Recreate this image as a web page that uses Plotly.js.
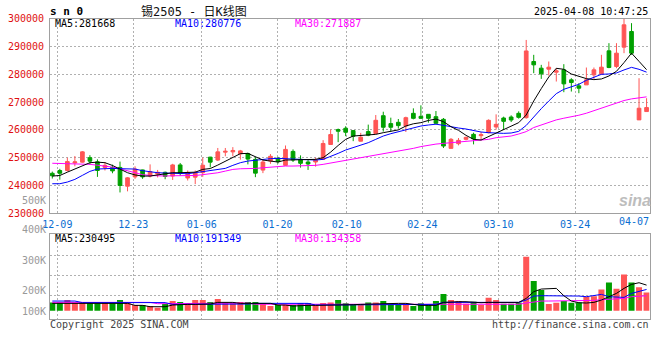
<!DOCTYPE html>
<html><head><meta charset="utf-8">
<script src="https://cdn.plot.ly/plotly-3.0.1.min.js"></script>
<style>html,body{margin:0;padding:0;background:#fff;}#chart{width:660px;height:360px;}</style>
</head><body><div id="chart"></div>
<script>
// ---- data ----
const dates = ['12-06','12-09','12-10','12-11','12-12','12-13','12-16','12-17','12-18','12-19','12-20','12-23','12-24','12-25','12-26','12-27','12-30','12-31','01-02','01-03','01-06','01-07','01-08','01-09','01-10','01-13','01-14','01-15','01-16','01-17','01-20','01-21','01-22','01-23','01-24','01-27','02-05','02-06','02-07','02-10','02-11','02-12','02-13','02-14','02-17','02-18','02-19','02-20','02-21','02-24','02-25','02-26','02-27','02-28','03-03','03-04','03-05','03-06','03-07','03-10','03-11','03-12','03-13','03-14','03-17','03-18','03-19','03-20','03-21','03-24','03-25','03-26','03-27','03-28','03-31','04-01','04-02','04-03','04-07','04-08'];
const open = [244400,245400,245400,248100,248400,250000,248500,246500,246500,246500,
 239750,243100,245600,243400,244100,244750,243400,247400,242700,243000,
 244600,250200,249150,252000,252100,251400,251500,249400,245550,248800,
 249800,247260,252260,249400,248450,248450,249400,254760,260120,260590,
 259760,255950,259400,258690,265110,262260,262730,261400,265960,264880,
 265600,264760,263800,253360,255040,256600,258400,257920,259000,261040,
 264280,264640,265960,264400,284600,282200,281840,280760,281600,278000,
 275840,276200,279800,280160,288440,282800,289760,295400,263600,266600];
const close = [243500,244400,248600,248500,252100,248750,245400,247250,245250,240000,
 242750,245900,243100,245000,244750,243250,247400,244400,244700,244500,
 247300,248400,252100,252300,252600,252450,249500,244450,248440,250500,
 248600,252980,249170,247980,247740,249170,255120,258330,259520,259160,
 257740,257380,258090,263450,260950,260950,261540,264400,264160,264160,
 264160,262360,254200,256600,256240,257320,256840,258280,263440,262000,
 263080,263560,264520,288400,283400,280160,282560,281240,276560,277040,
 275000,278000,281600,282560,282440,287600,297800,287600,267800,268040];
const high = [245000,246000,250000,250600,252400,250900,249400,248400,247500,248600,
 243000,246900,245700,247600,245600,245000,247800,248100,245400,245400,
 250000,250300,253500,253500,253800,252800,251800,250200,249300,251300,
 250300,254400,252980,250830,249170,250000,256310,260120,260470,261310,
 259880,258930,261900,265350,266540,264400,263920,264760,267760,268840,
 265600,266800,264280,257080,257080,257560,259000,259240,263800,265600,
 264760,265240,266680,292360,287000,283400,284600,282200,283640,278600,
 276800,282440,282440,287000,291200,291200,299900,298400,278600,271400];
const low = [242500,242100,245000,246900,248200,247500,243100,245400,244400,237500,
 237900,242400,242400,242900,242900,242250,242000,243500,241800,240500,
 243100,246500,248800,250500,250500,249300,247600,243000,244450,247800,
 247900,247030,248450,246430,245600,246790,249170,254640,255590,257740,
 255950,255830,257740,258570,259400,259400,260470,259240,263800,264040,
 262600,262000,253480,253360,254440,256240,254800,256240,258760,260080,
 260080,262840,264040,264040,280400,278360,279560,277400,273560,273800,
 273200,276200,278240,279800,282200,282200,287600,287000,263600,266600];
const ma5 = [243400,243600,244800,246000,247000,248200,248400,248200,247200,246000,
 244600,243800,243400,243400,243800,244300,244600,244600,244600,244800,
 245800,246100,247350,248800,250000,251450,251550,250350,249150,248800,
 248430,249160,249160,249400,249400,249400,250000,252000,254400,256600,
 257800,258000,258000,258400,259000,259500,260000,261400,262200,262600,
 263400,263900,262960,261160,259840,258040,256600,256360,257560,258760,
 260200,261160,262600,265360,270400,274840,279040,282160,281800,280120,
 279160,278440,278080,278320,279400,281080,284200,287600,284650,281668];
const ma10 = [240640,240640,241240,242200,243640,245080,245920,246160,246160,246040,
 246040,245920,245320,244840,244600,244480,244360,244240,244240,244600,
 244960,245320,245750,246160,247240,248200,248800,249160,249280,249640,
 249760,249640,249520,249400,249280,249160,249400,250360,251560,252760,
 253600,254560,255400,256600,257800,258640,259360,260080,260800,261400,
 261760,262050,261640,261040,260680,260320,259720,259240,259000,258760,
 258760,258880,259480,261600,264760,267640,270400,273040,274600,275560,
 276400,277840,279040,280000,280120,280480,281560,282500,281800,280776];
const ma30 = [248000,247900,247800,247800,247800,247600,247300,247000,246600,246000,
 245300,244500,243900,243600,243400,243400,243500,243500,243600,243600,
 243900,244200,244580,245180,245780,246020,246020,246140,246380,246620,
 246900,247000,247000,247000,247000,247240,247600,248080,248560,249040,
 249520,250000,250500,250900,251400,251800,252200,252800,253360,254000,
 254560,254900,255160,255400,255640,255760,256000,256240,256600,257200,
 257560,257800,258520,259380,260840,261800,262760,263600,264200,264680,
 265280,266000,266960,267800,268640,269600,270560,271160,271400,271887];
const volume = [75000,75000,96000,75000,75000,66000,66000,72000,66000,96000,
 75000,51000,51000,42000,27000,60000,87000,78000,63000,96000,
 96000,78000,105000,75000,75000,78000,78000,78000,63000,42000,
 51000,51000,51000,69000,69000,51000,69000,75000,96000,66000,
 57000,51000,75000,75000,87000,57000,57000,63000,42000,66000,
 51000,87000,150000,96000,87000,63000,81000,51000,117000,96000,
 63000,63000,75000,486000,267000,186000,60000,72000,87000,72000,
 75000,125000,130000,190000,255000,197000,325000,254000,211000,165000];
const vma5 = [66000,66000,66000,66000,66000,66000,66000,66000,66000,66000,
 66000,48000,48000,36000,36000,36000,51000,57000,57000,57000,
 57000,60000,75000,75000,75000,66000,66000,66000,66000,66000,
 51000,51000,42000,48000,48000,48000,48000,51000,51000,51000,
 54000,57000,60000,63000,66000,66000,66000,66000,57000,48000,
 48000,48000,75000,81000,81000,81000,75000,72000,75000,75000,
 75000,75000,75000,111000,171000,195000,201000,201000,135000,87000,
 72000,69000,75000,96000,126000,156000,201000,237000,252000,230495];
const vma10 = [87000,87000,87000,87000,73000,73000,73000,73000,73000,73000,
 73000,73000,73000,73000,73000,73000,57000,57000,57000,57000,
 57000,57000,60000,60000,60000,60000,60000,66000,66000,66000,
 66000,66000,66000,66000,66000,51000,51000,51000,51000,51000,
 51000,57000,57000,57000,57000,57000,57000,57000,57000,57000,
 57000,57000,75000,75000,75000,75000,75000,75000,75000,75000,
 75000,75000,75000,96000,132000,135000,135000,135000,135000,135000,
 132000,126000,135000,147000,126000,120000,120000,156000,177000,191349];
const vma30 = [75000,75000,75000,75000,75000,75000,75000,75000,75000,75000,
 75000,75000,75000,75000,63000,63000,63000,63000,63000,63000,
 63000,69000,69000,69000,69000,69000,69000,58000,58000,58000,
 58000,58000,58000,58000,58000,58000,58000,58000,58000,58000,
 58000,58000,58000,58000,58000,58000,58000,58000,58000,58000,
 58000,58000,58000,58000,58000,58000,58000,58000,58000,58000,
 58000,58000,58000,69000,78000,87000,87000,87000,87000,87000,
 87000,87000,93000,99000,105000,108000,111000,126000,132000,134358];
const priceTicks = [230000,240000,250000,260000,270000,280000,290000,300000];
const dateTickLabels = ['12-09','12-23','01-06','01-20','02-10','02-24','03-10','03-24'];
const lastDateLabel = '04-07';
const volLabels = ['500K','400K','300K','200K','100K'];

// ---- drawing ----
const RED = '#ff5555', GREEN = '#00a000';
const MONO = 'DejaVu Sans Mono, monospace';
const xi = dates.map((d, i) => i);
// gridline positions of the labelled dates (Sina draws them slightly off the candle centres)
const dateTickPos = [0.67, 10.77, 19.87, 29.93, 39.15, 49.2, 59.31, 69.5];
const W = 660, H = 360;
const fx = p => p / W, fy = p => 1 - p / H;

const traces = [
  {type:'candlestick', x:xi, open:open, high:high, low:low, close:close, xaxis:'x', yaxis:'y',
   increasing:{line:{color:RED, width:1}, fillcolor:RED},
   decreasing:{line:{color:GREEN, width:1}, fillcolor:GREEN},
   whiskerwidth:0, hoverinfo:'skip'},
  {type:'scatter', mode:'lines', x:xi, y:ma30, line:{color:'#ff00ff', width:1}, xaxis:'x', yaxis:'y', hoverinfo:'skip'},
  {type:'scatter', mode:'lines', x:xi, y:ma10, line:{color:'#0000ff', width:1}, xaxis:'x', yaxis:'y', hoverinfo:'skip'},
  {type:'scatter', mode:'lines', x:xi, y:ma5, line:{color:'#000000', width:1}, xaxis:'x', yaxis:'y', hoverinfo:'skip'},
  {type:'bar', x:xi, y:volume, width:0.8, xaxis:'x2', yaxis:'y2', hoverinfo:'skip',
   marker:{color:close.map((c, i) => c >= open[i] ? RED : GREEN), line:{width:0}}},
  {type:'scatter', mode:'lines', x:xi, y:vma30, line:{color:'#ff00ff', width:1}, xaxis:'x2', yaxis:'y2', hoverinfo:'skip'},
  {type:'scatter', mode:'lines', x:xi, y:vma10, line:{color:'#0000ff', width:1}, xaxis:'x2', yaxis:'y2', hoverinfo:'skip'},
  {type:'scatter', mode:'lines', x:xi, y:vma5, line:{color:'#000000', width:1}, xaxis:'x2', yaxis:'y2', hoverinfo:'skip'}
];

const grid = {showgrid:true, gridcolor:'#b0b0b0', griddash:'2px,2px', gridwidth:1,
  showline:true, mirror:true, linecolor:'#a0a0a0', linewidth:1, zeroline:false, fixedrange:true};
const xDomain = [50 / W, 649.5 / W];
const xRange = [-0.306, 79.39];

const ann = [];
function txt(text, x, y, anchor, size, color, extra) {
  ann.push(Object.assign({text:text, xref:'paper', yref:'paper', x:fx(x), y:fy(y), xanchor:anchor, yanchor:'middle',
    showarrow:false, borderpad:0, font:{family:MONO, size:size, color:color}}, extra || {}));
}
txt('<b>s n 0</b>', 49, 11.5, 'left', 11, '#000');
ann.push({text:'锡2505 - 日K线图', xref:'paper', yref:'paper', x:fx(194), y:fy(11), xanchor:'center', yanchor:'middle',
  showarrow:false, borderpad:0, font:{family:'DejaVu Sans Mono, Noto Sans CJK SC', size:12, color:'#111'}});
txt('2025-04-08 10:47:25', 649, 11, 'right', 10, '#000');
const last = a => a[a.length - 1];
txt('MA5:' + last(ma5), 54, 23.5, 'left', 10, '#000');
txt('MA10:' + last(ma10), 174, 23.5, 'left', 10, '#0000ff');
txt('MA30:' + last(ma30), 294, 23.5, 'left', 10, '#ff00ff');
txt('MA5:' + last(vma5), 54, 238.7, 'left', 10, '#000');
txt('MA10:' + last(vma10), 174, 238.7, 'left', 10, '#0000ff');
txt('MA30:' + last(vma30), 294, 238.7, 'left', 10, '#ff00ff');
const volLabelY = [200.3, 230, 260, 290, 311.3];
volLabels.forEach((t, i) => txt(t, 47, volLabelY[i], 'right', 10, '#999'));
txt(lastDateLabel, 634, 221, 'center', 10, '#0a6ed1');
txt('Copyright 2025 SINA.COM', 49, 324, 'left', 10, '#444');
txt('http://finance.sina.com.cn', 649.5, 324, 'right', 10, '#444');
ann.push({text:'<b><i>sina</i></b>', xref:'paper', yref:'paper', x:fx(635), y:fy(200), xanchor:'center', yanchor:'middle',
  showarrow:false, borderpad:0, font:{family:'Liberation Sans, Arial', size:16, color:'#bdbdbd'}});

const layout = {
  width:W, height:H, margin:{l:0, r:0, t:0, b:0}, paper_bgcolor:'#fff', plot_bgcolor:'#fff',
  showlegend:false, boxgap:0.3, bargap:0.2,
  xaxis: Object.assign({}, grid, {domain:xDomain, range:xRange, anchor:'y', tickmode:'array',
    tickvals:dateTickPos, ticktext:dateTickLabels, ticks:'', ticklabelstandoff:2,
    tickfont:{family:MONO, size:10, color:'#0a6ed1'}, rangeslider:{visible:false}}),
  yaxis: Object.assign({}, grid, {domain:[(H - 213.3) / H, (H - 18.7) / H], range:[230000, 300000], anchor:'x',
    tickmode:'array', tickvals:priceTicks, ticktext:priceTicks.map(String), ticks:'', ticklabelstandoff:3,
    tickfont:{family:MONO, size:10, color:'#e01010'}}),
  xaxis2: Object.assign({}, grid, {domain:xDomain, range:xRange, anchor:'y2', tickmode:'array',
    tickvals:dateTickPos, showticklabels:false, ticks:'', rangeslider:{visible:false}}),
  yaxis2: Object.assign({}, grid, {domain:[(H - 318.7) / H, (H - 234.3) / H], range:[-72000, 688000], anchor:'x2',
    tickmode:'array', tickvals:[140000, 320000, 500000], showticklabels:false, ticks:''}),
  annotations: ann
};
Plotly.newPlot('chart', traces, layout, {staticPlot:true, displayModeBar:false});
</script></body></html>
